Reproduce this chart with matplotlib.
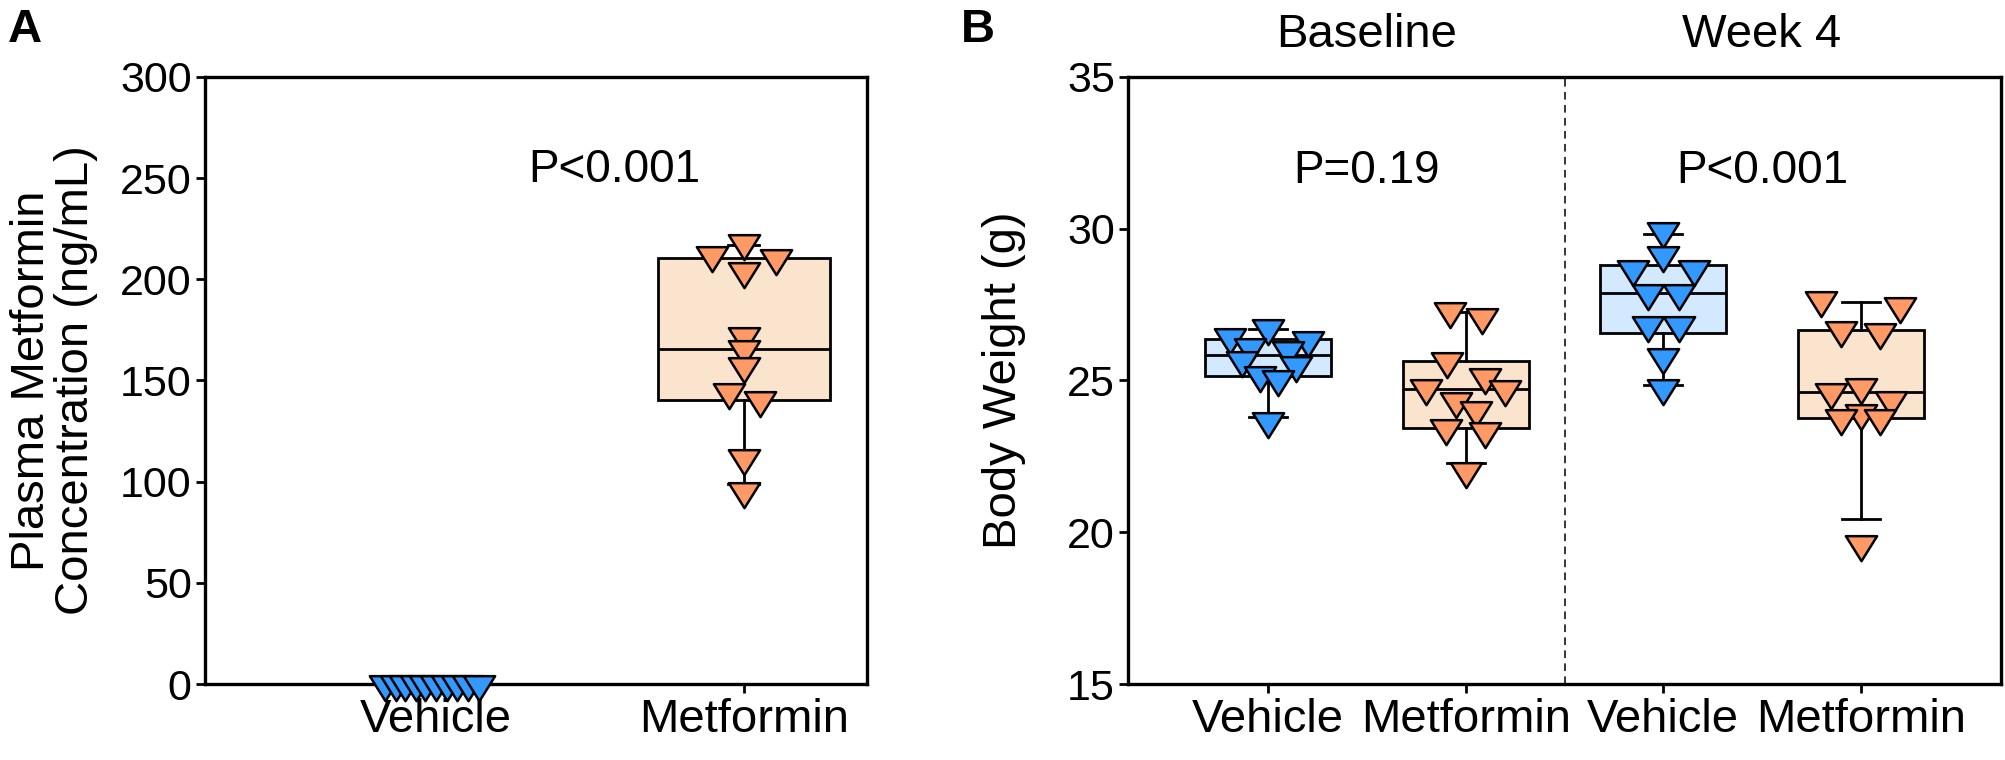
import numpy as np
import matplotlib
matplotlib.use("Agg")
import matplotlib.pyplot as plt
from matplotlib.path import Path
from matplotlib.markers import MarkerStyle
from matplotlib.transforms import blended_transform_factory

plt.rcParams['font.family'] = ['Liberation Sans', 'DejaVu Sans']

# ---------------- data: panel A ----------------
a_categories = ["Vehicle", "Metformin"]
a_vehicle = [0, 0, 0, 0, 0, 0, 0, 0, 0, 0]
a_metformin = [218, 212, 210.5, 204, 172, 165.5, 157, 144.5, 140.5, 111.5, 95.5]
a_yticks = [0, 50, 100, 150, 200, 250, 300]
a_pvalue = "P<0.001"

# ---------------- data: panel B ----------------
b_categories = ["Vehicle", "Metformin", "Vehicle", "Metformin"]
b_periods = ["Baseline", "Week 4"]
b_base_vehicle = [26.72, 26.42, 26.35, 26.10, 26.02, 25.68, 25.50, 25.17, 25.05, 23.66]
b_base_metformin = [27.30, 27.10, 25.64, 25.12, 24.74, 24.72, 24.31, 24.04, 23.43, 23.32, 22.01]
b_wk4_vehicle = [29.92, 29.15, 28.68, 28.68, 27.89, 27.89, 26.84, 26.84, 25.77, 24.74]
b_wk4_metformin = [27.64, 27.44, 26.68, 26.60, 24.80, 24.63, 24.37, 23.94, 23.78, 23.78, 19.60]
b_yticks = [15, 20, 25, 30, 35]
b_pvalues = ["P=0.19", "P<0.001"]

# ---------------- layout: horizontal scatter of points (category units) ----------------
a_vehicle_dx = [-0.165, -0.13, -0.10, -0.065, -0.035, 0.0, 0.035, 0.07, 0.105, 0.14]
a_metformin_dx = [0, -0.103, 0.103, 0, 0, 0, 0, -0.049, 0.054, 0, 0]
b_base_vehicle_dx = [0, -0.193, 0.202, -0.092, 0.101, -0.134, 0.143, -0.042, 0.05, 0]
b_base_metformin_dx = [-0.08, 0.084, -0.095, 0.10, -0.20, 0.20, -0.05, 0.05, -0.10, 0.10, 0]
b_wk4_vehicle_dx = [0, 0, -0.152, 0.157, -0.079, 0.081, -0.079, 0.081, 0, 0]
b_wk4_metformin_dx = [-0.202, 0.197, -0.101, 0.096, 0, -0.152, 0.152, 0, -0.101, 0.096, 0]

# ---------------- styles ----------------
BLUE = "#3399FF"
ORANGE = "#FF9966"
BLUE_BOX = "#D3E9FF"
ORANGE_BOX = "#FBE4CE"
LW = 2.0
FS_TICK = 31
FS_LAB = 34
FS_TXT = 33

# down-pointing triangle whose centroid sits on the data value
tri_path = Path([(-1, 0.533), (1, 0.533), (0, -1.067), (-1, 0.533)],
                [Path.MOVETO, Path.LINETO, Path.LINETO, Path.CLOSEPOLY])
TRI = MarkerStyle(tri_path, joinstyle='miter')


def box_stats(values):
    v = np.asarray(values, float)
    q10, q25, q50, q75, q90 = np.percentile(v, [10, 25, 50, 75, 90], method='weibull')
    return dict(med=q50, q1=q25, q3=q75, whislo=q10, whishi=q90, fliers=[])


def draw_group(ax, values, dx, pos, facecolor, markercolor, width, capwidth):
    ax.bxp([box_stats(values)], positions=[pos], widths=width, capwidths=capwidth,
           patch_artist=True, showfliers=False, manage_ticks=False, zorder=2,
           boxprops=dict(facecolor=facecolor, edgecolor='black', linewidth=LW),
           medianprops=dict(color='black', linewidth=LW),
           whiskerprops=dict(color='black', linewidth=LW),
           capprops=dict(color='black', linewidth=LW))
    xs = [pos + d for d in dx]
    ax.plot(xs, values, linestyle='none', marker=TRI, markersize=24,
            markerfacecolor=markercolor, markeredgecolor='black',
            markeredgewidth=1.8, zorder=3, clip_on=False)


def style_axes(ax):
    for sp in ax.spines.values():
        sp.set_linewidth(2.4)
    ax.tick_params(axis='both', which='both', direction='out', length=6.5, width=2.0,
                   top=False, right=False)
    ax.tick_params(axis='y', pad=3, labelsize=FS_TICK)
    ax.tick_params(axis='x', pad=3.5, labelsize=FS_LAB)


fig = plt.figure(figsize=(20.05, 7.6), dpi=100)

# ---------------- panel A ----------------
axA = fig.add_axes([0.1022, 0.1, 0.3302, 0.7987])
draw_group(axA, a_vehicle, a_vehicle_dx, 1, BLUE_BOX, BLUE, 0.56, 0.10)
draw_group(axA, a_metformin, a_metformin_dx, 2, ORANGE_BOX, ORANGE, 0.56, 0.10)
axA.set_xlim(0.25, 2.40)
axA.set_ylim(a_yticks[0], a_yticks[-1])
axA.set_yticks(a_yticks)
axA.set_xticks([1, 2])
axA.set_xticklabels(a_categories)
style_axes(axA)
axA.text(1.58, 254, a_pvalue, fontsize=FS_TXT, ha='center', va='center')
axA.text(-0.228, 0.5, "Plasma Metformin\nConcentration (ng/mL)", transform=axA.transAxes,
         rotation=90, ha='center', va='center', multialignment='center',
         fontsize=FS_LAB, linespacing=1.0)

# ---------------- panel B ----------------
axB = fig.add_axes([0.5626, 0.1, 0.4354, 0.7987])
b_groups = [b_base_vehicle, b_base_metformin, b_wk4_vehicle, b_wk4_metformin]
b_dx = [b_base_vehicle_dx, b_base_metformin_dx, b_wk4_vehicle_dx, b_wk4_metformin_dx]
b_fc = [BLUE_BOX, ORANGE_BOX, BLUE_BOX, ORANGE_BOX]
b_mc = [BLUE, ORANGE, BLUE, ORANGE]
for i, (vals, dx, fc, mc) in enumerate(zip(b_groups, b_dx, b_fc, b_mc)):
    draw_group(axB, vals, dx, i + 1, fc, mc, 0.64, 0.19)
axB.axvline(2.5, color='black', linewidth=1.1, linestyle=(0, (5, 3.5)), zorder=1)
axB.set_xlim(0.29, 4.71)
axB.set_ylim(b_yticks[0], b_yticks[-1])
axB.set_yticks(b_yticks)
axB.set_xticks([1, 2, 3, 4])
axB.set_xticklabels(b_categories)
style_axes(axB)
for k, p in enumerate(b_pvalues):
    axB.text(1.5 + 2 * k, 31.9, p, fontsize=FS_TXT, ha='center', va='center')
trB = blended_transform_factory(axB.transData, axB.transAxes)
for k, lab in enumerate(b_periods):
    axB.text(1.5 + 2 * k, 1.069, lab, transform=trB, fontsize=FS_LAB, ha='center', va='center')
axB.text(-0.142, 0.5, "Body Weight (g)", transform=axB.transAxes, rotation=90,
         ha='center', va='center', fontsize=FS_LAB)

# panel letters
fig.text(0.004, 0.99, "A", fontsize=34, fontweight='bold', ha='left', va='top')
fig.text(0.479, 0.99, "B", fontsize=34, fontweight='bold', ha='left', va='top')

fig.savefig("out.png", dpi=100)
